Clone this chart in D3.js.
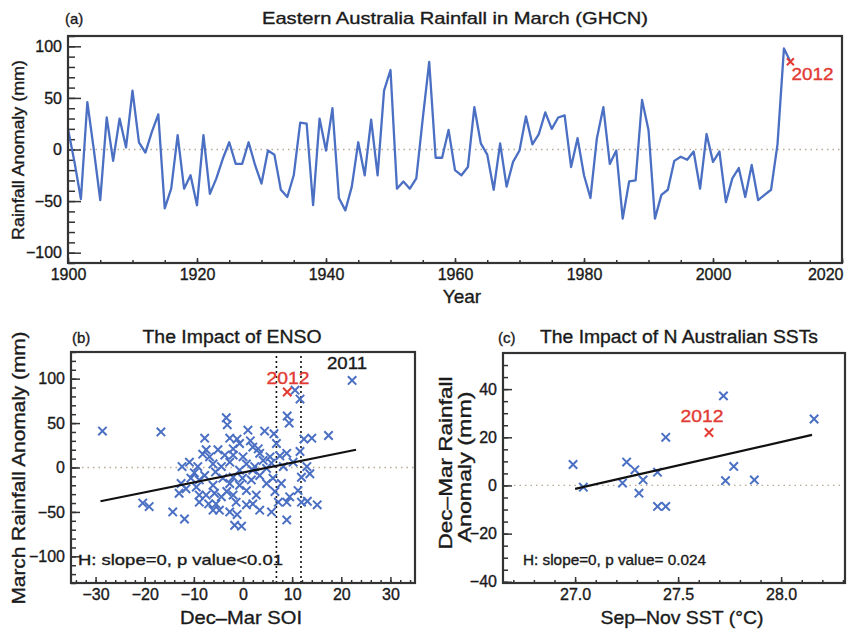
<!DOCTYPE html>
<html>
<head>
<meta charset="utf-8">
<script src="https://cdn.jsdelivr.net/npm/d3@7/dist/d3.min.js"></script>
<style>
body { margin: 0; background: #fff; }
text { font-family: "Liberation Sans", Arial, sans-serif; fill: #1a1a1a; stroke-width: 0.35px; }
</style>
</head>
<body>
<div id="chart"></div>
<script>
// ---- data ----
var firstYear = 1900;
// March rainfall anomaly (mm), 1900..2012
var rainfall = [20, -12, -48, 46, 0, -49, 31, -11, 30, 2,
    57, 7, -3, 17, 34, -57, -38, 14, -38, -25,
    -54, 14, -43, -28, -9, 7, -14, -14, 7, -15,
    -33, -1, -5, -39, -46, -25, 26, 25, -54, 30,
    -1, 40, -47, -59, -36, 7, -25, 29, -25, 57,
    77, -38, -31, -38, -28, 30, 85, -8, -8, 19,
    -20, -25, -17, 41, 6, -5, -39, 6, -36, -12,
    -1, 32, 5, 15, 36, 20, 31, 33, -17, 11,
    -25, -47, 11, 41, -14, -1, -67, -31, -30, 48,
    19, -67, -44, -39, -11, -7, -10, -2, -38, 15,
    -12, -2, -51, -28, -18, -46, -15, -49, -44, -39,
    5, 98, 85];
var yearTicks = [1900, 1920, 1940, 1960, 1980, 2000, 2020];
var rainTicks = [-100, -50, 0, 50, 100];

// (b) Dec-Mar SOI vs March rainfall
var soiB = [-28.6, -16.7, 22.2, 10.6, 11.6, 9.0, 9.4, -3.4, -3.2, 4.4,
    6.3, 17.4, 12.4, 14.0, -7.8, -2.7, -1.2, -0.7, 1.5, 2.0,
    3.1, -7.5, -5.1, -8.2, -2.0, 0.0, 5.5, 7.5, 8.9, 11.6,
    -10.9, -9.2, -6.1, -4.4, -2.7, 0.7, 2.4, 4.1, 5.8, -9.9,
    -7.8, -5.6, -2.0, -0.1, 1.7, -2.7, 3.4, 6.1, 7.8, 11.9,
    13.6, -12.6, -11.6, -13.0, -9.5, -7.5, -5.8, -4.4, -3.3, -2.0,
    0.7, 2.7, -0.7, -8.9, -7.0, -4.8, -2.7, -14.3, -11.9, -20.4,
    -19.1, -1.7, -0.3, -1.2, 3.4, 5.8, 8.9, 8.9, 11.9, 13.1,
    15.1, 7.2, 4.8, 2.0, -6.1, -4.1, -8.9, -10.6, -0.7, 4.8,
    8.2, 10.2, 13.0, -5.5, 0.7, 2.0, -3.7, -6.8, -12.4, -2.0,
    3.4, -6.1, -1.4, 11.2, 9.5, 6.5, -8.9, 6.8, 1.0];
var rainB = [41, 40, 98, 87, 77, 58, 50, 56, 48, 41,
    38, 36, 32, 33, 33, 33, 32, 27, 30, 23,
    21, 20, 20, 15, 14, 12, 12, 13, 16, 18,
    6, 1, 4, 1, 6, 4, 1, 8, 5, -6,
    -9, -5, -11, -12, -14, -18, -9, -12, -18, -11,
    -7, -18, -24, -29, -22, -31, -29, -33, -27, -31,
    -26, -31, -20, -39, -41, -48, -50, -50, -58, -40,
    -44, -65, -66, -53, -48, -50, -59, -39, -39, -38,
    -42, -39, -18, -3, -20, -12, -14, -12, -3, -1,
    1, 6, 1, -41, -42, -41, 14, 12, 1, 21,
    16, -48, -39, -26, -33, -27, -31, 27, 42];
var soi2012 = 9.0, rain2012B = 85;
var soiLimits = [6.8, 11.8];
var trendB = [[-29, -38], [23, 20]];
var soiTicks = [-30, -20, -10, 0, 10, 20, 30];

// (c) Sep-Nov SST vs Dec-Mar rainfall
var sstC = [26.99, 27.04, 27.25, 27.23, 27.29, 27.33, 27.31, 27.40, 27.40, 27.44,
    27.44, 27.72, 27.73, 27.77, 27.87, 28.16];
var rainC = [8.7, -0.7, 9.7, 1.0, 6.5, 2.3, -3.2, 5.5, -8.7, -8.7,
    20.0, 37.2, 2.0, 7.9, 2.3, 27.6];
var sst2012 = 27.65, rain2012C = 22;
var trendC = [[27.0, -1.4], [28.15, 21]];
var sstTicks = [27.0, 27.5, 28.0];
var rainCTicks = [-40, -20, 0, 20, 40];

// ---- drawing ----
var W = 857, H = 629;
var blue = "#4a6fc3", red = "#e23b33", ink = "#333";

var svg = d3.select("#chart").append("svg")
    .attr("width", W).attr("height", H);

function xMark(g, cx, cy, color, r) {
    g.append("path")
        .attr("d", "M" + (cx - r) + "," + (cy - r) + "L" + (cx + r) + "," + (cy + r) +
            "M" + (cx - r) + "," + (cy + r) + "L" + (cx + r) + "," + (cy - r))
        .attr("stroke", color).attr("stroke-width", 2).attr("fill", "none");
}

// text helper: optional stretched width to match the wide lettering of the original
function label(g, x, y, str, size, opt) {
    opt = opt || {};
    var t = g.append("text").attr("font-size", size).text(str);
    if (opt.rotate) {
        t.attr("transform", "translate(" + x + "," + y + ") rotate(-90)");
    } else {
        t.attr("x", x).attr("y", y);
    }
    t.attr("text-anchor", opt.anchor || "middle");
    if (opt.len) t.attr("textLength", opt.len).attr("lengthAdjust", "spacingAndGlyphs");
    t.style("stroke", opt.color || "#1a1a1a");
    if (opt.color) t.style("fill", opt.color);
    return t;
}

function ticks(g, x, y, o) {
    var x0 = x.range()[0], y0 = y.range()[0];
    // inward ticks on bottom and left
    g.append("g").attr("transform", "translate(0," + y0 + ")")
        .call(d3.axisBottom(x).tickValues(o.xMinor).tickSize(-o.xMinorLen).tickFormat(""));
    var xa = g.append("g").attr("class", "xmajor").attr("transform", "translate(0," + y0 + ")")
        .call(d3.axisBottom(x).tickValues(o.xMajor).tickSize(-o.xMajorLen)
            .tickPadding(6).tickFormat(o.xFmt));
    g.append("g").attr("transform", "translate(" + x0 + ",0)")
        .call(d3.axisLeft(y).tickValues(o.yMinor).tickSize(-o.yMinorLen).tickFormat(""));
    g.append("g").attr("transform", "translate(" + x0 + ",0)")
        .call(d3.axisLeft(y).tickValues(o.yMajor).tickSize(-o.yMajorLen)
            .tickPadding(6).tickFormat(o.yFmt));
    g.selectAll(".domain").remove();
    g.selectAll(".tick line").attr("stroke", ink).attr("stroke-width", 1.5);
    g.selectAll(".tick text").attr("font-size", o.fontSize)
        .attr("font-family", "Liberation Sans, Arial, sans-serif")
        .attr("fill", "#1a1a1a").style("stroke", "#1a1a1a");
    return xa;
}

function box(g, x, y) {
    g.append("rect")
        .attr("x", x.range()[0]).attr("y", y.range()[1])
        .attr("width", x.range()[1] - x.range()[0])
        .attr("height", y.range()[0] - y.range()[1])
        .attr("fill", "none").attr("stroke", ink).attr("stroke-width", 2.2);
}

function zeroLine(g, x, y) {
    g.append("line")
        .attr("x1", x.range()[0]).attr("x2", x.range()[1])
        .attr("y1", y(0)).attr("y2", y(0))
        .attr("stroke", "#b9a993").attr("stroke-width", 1.3)
        .attr("stroke-dasharray", "1.5,4");
}

// ---------- (a) time series ----------
var xA = d3.scaleLinear().domain([1900, 2020]).range([68, 842]);
var yA = d3.scaleLinear().domain([-110, 110]).range([263, 36]);
var gA = svg.append("g");

zeroLine(gA, xA, yA);
var xaxA = ticks(gA, xA, yA, {
    xMajor: yearTicks, xMinor: d3.range(1900, 2021, 5), xMajorLen: 5, xMinorLen: 3,
    yMajor: rainTicks, yMinor: d3.range(-110, 111, 10), yMajorLen: 13, yMinorLen: 7,
    xFmt: d3.format("d"), yFmt: d3.format("d"), fontSize: 16
});
// keep the last year label inside the page
xaxA.selectAll(".tick text").filter(function (d) { return d === 2020; })
    .attr("text-anchor", "end").attr("x", 1);

var line = d3.line()
    .x(function (d, i) { return xA(firstYear + i); })
    .y(function (d) { return yA(d); });
gA.append("path").datum(rainfall)
    .attr("d", line)
    .attr("fill", "none").attr("stroke", blue).attr("stroke-width", 2.3)
    .attr("stroke-linejoin", "round");

var last = rainfall.length - 1;
xMark(gA, xA(firstYear + last), yA(rainfall[last]), red, 3.5);
label(gA, xA(firstYear + last) + 1, yA(rainfall[last]) + 18, "2012", 17,
    { anchor: "start", color: red, len: 42 });
box(gA, xA, yA);

label(gA, 65, 24, "(a)", 15, { anchor: "start" });
label(gA, 455, 24, "Eastern Australia Rainfall in March (GHCN)", 17, { len: 386 });
label(gA, 462, 303, "Year", 19);
label(gA, 24, 150, "Rainfall Anomaly (mm)", 17, { rotate: true, len: 180 });

// ---------- (b) ENSO scatter ----------
var xB = d3.scaleLinear().domain([-35, 35]).range([71, 415]);
var yB = d3.scaleLinear().domain([-130, 130]).range([583, 352]);
var gB = svg.append("g");

zeroLine(gB, xB, yB);
ticks(gB, xB, yB, {
    xMajor: soiTicks, xMinor: d3.range(-34, 35, 2), xMajorLen: 6, xMinorLen: 3,
    yMajor: rainTicks, yMinor: d3.range(-130, 131, 10), yMajorLen: 9, yMinorLen: 5,
    xFmt: d3.format("d"), yFmt: d3.format("d"), fontSize: 16
});
soiLimits.forEach(function (s) {
    gB.append("line").attr("x1", xB(s)).attr("x2", xB(s))
        .attr("y1", yB.range()[0]).attr("y2", yB.range()[1])
        .attr("stroke", "#111").attr("stroke-width", 1.6).attr("stroke-dasharray", "2,3");
});
soiB.forEach(function (s, i) { xMark(gB, xB(s), yB(rainB[i]), blue, 4.2); });
xMark(gB, xB(soi2012), yB(rain2012B), red, 4.2);
gB.append("line")
    .attr("x1", xB(trendB[0][0])).attr("y1", yB(trendB[0][1]))
    .attr("x2", xB(trendB[1][0])).attr("y2", yB(trendB[1][1]))
    .attr("stroke", "#111").attr("stroke-width", 2.2);
box(gB, xB, yB);

label(gB, 347, 369, "2011", 17, { len: 40 });
label(gB, 288, 384, "2012", 17, { color: red, len: 43 });
label(gB, 78, 565, "H: slope=0, p value<0.01", 15, { anchor: "start", len: 205 });
label(gB, 72, 343, "(b)", 15, { anchor: "start" });
label(gB, 232, 343, "The Impact of ENSO", 18, { len: 179 });
label(gB, 241, 624, "Dec\u2013Mar SOI", 19, { len: 122 });
label(gB, 25, 468, "March Rainfall Anomaly (mm)", 19, { rotate: true, len: 273 });

// ---------- (c) SST scatter ----------
var xC = d3.scaleLinear().domain([26.65, 28.31]).range([503, 845]);
var yC = d3.scaleLinear().domain([-40.5, 55]).range([583, 353]);
var gC = svg.append("g");

zeroLine(gC, xC, yC);
ticks(gC, xC, yC, {
    xMajor: sstTicks, xMinor: d3.range(26.7, 28.31, 0.1), xMajorLen: 6, xMinorLen: 3,
    yMajor: rainCTicks, yMinor: d3.range(-40, 55, 5), yMajorLen: 9, yMinorLen: 5,
    xFmt: d3.format(".1f"), yFmt: d3.format("d"), fontSize: 16
});
sstC.forEach(function (s, i) { xMark(gC, xC(s), yC(rainC[i]), blue, 4.2); });
xMark(gC, xC(sst2012), yC(rain2012C), red, 4.2);
gC.append("line")
    .attr("x1", xC(trendC[0][0])).attr("y1", yC(trendC[0][1]))
    .attr("x2", xC(trendC[1][0])).attr("y2", yC(trendC[1][1]))
    .attr("stroke", "#111").attr("stroke-width", 2.2);
box(gC, xC, yC);

label(gC, 702, 422, "2012", 17, { color: red, len: 43 });
label(gC, 523, 565, "H: slope=0, p value= 0.024", 14, { anchor: "start", len: 183 });
label(gC, 498, 343, "(c)", 15, { anchor: "start" });
label(gC, 679, 343, "The Impact of N Australian SSTs", 18, { len: 278 });
label(gC, 682, 624, "Sep\u2013Nov SST (\u00b0C)", 19, { len: 163 });
label(gC, 452, 463, "Dec\u2013Mar Rainfall", 18, { rotate: true, len: 173 });
label(gC, 471, 467, "Anomaly (mm)", 18, { rotate: true, len: 151 });
</script>
</body>
</html>
